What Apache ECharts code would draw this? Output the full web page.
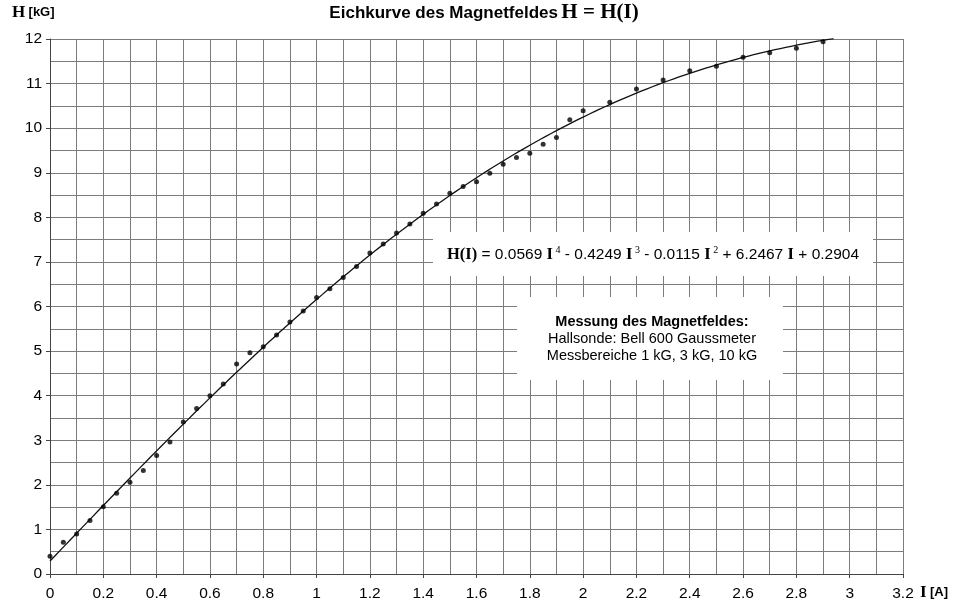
<!DOCTYPE html>
<html>
<head>
<meta charset="utf-8">
<script src="https://cdn.jsdelivr.net/npm/echarts@6/dist/echarts.min.js"></script>
<style>
    html, body { margin: 0; padding: 0; background: #fff; }
    #chart { width: 958px; height: 612px; }
</style>
</head>
<body>
<div id="chart"></div>
<script>
// measured current I [A]
const currents = [
    0, 0.05, 0.1, 0.15, 0.2, 0.25, 0.3, 0.35, 0.4, 0.45,
    0.5, 0.55, 0.6, 0.65, 0.7, 0.75, 0.8, 0.85, 0.9, 0.95,
    1.0, 1.05, 1.1, 1.15, 1.2, 1.25, 1.3, 1.35, 1.4, 1.45,
    1.5, 1.55, 1.6, 1.65, 1.7, 1.75, 1.8, 1.85, 1.9, 1.95,
    2.0, 2.1, 2.2, 2.3, 2.4, 2.5, 2.6, 2.7, 2.8, 2.9
];

// measured field H [kG]
const fieldValues = [
    0.4, 0.71, 0.9, 1.2, 1.51, 1.81, 2.06, 2.32, 2.66, 2.96,
    3.41, 3.71, 4.0, 4.26, 4.71, 4.96, 5.1, 5.36, 5.65, 5.9,
    6.2, 6.4, 6.65, 6.9, 7.2, 7.4, 7.65, 7.85, 8.09, 8.3,
    8.54, 8.69, 8.8, 8.99, 9.19, 9.34, 9.44, 9.64, 9.79, 10.19,
    10.39, 10.58, 10.88, 11.08, 11.29, 11.39, 11.59, 11.69, 11.79, 11.94
];

// fit coefficients as printed on the chart (I^4 .. I^0)
const fitCoeffs = [0.0569, -0.4249, -0.0115, 6.2467, 0.2904];
const fitRange = [0, 2.94];

const sans = '"Liberation Sans", Arial, sans-serif';
const serif = '"Liberation Serif", "Times New Roman", serif';

function evalFit(i) {
    return fitCoeffs.reduce((acc, c) => acc * i + c, 0);
}

const fitLine = [];
for (let k = 0; k <= 147; k++) {
    const i = Math.min(fitRange[1], k * 0.02);
    fitLine.push([i, evalFit(i)]);
}

const points = currents.map((c, idx) => [c, fieldValues[idx]]);

const chart = echarts.init(document.getElementById('chart'));

const gridLine = { show: true, lineStyle: { color: '#7c7c7c', width: 1 } };

chart.setOption({
    animation: false,
    backgroundColor: '#fff',
    grid: { left: 50, right: 55, top: 39, bottom: 38 },
    xAxis: {
        type: 'value',
        min: 0,
        max: 3.2,
        interval: 0.2,
        axisLine: { show: true, lineStyle: { color: '#444', width: 1 } },
        axisTick: { show: true, length: 4, lineStyle: { color: '#444' } },
        axisLabel: { color: '#000', fontFamily: sans, fontSize: 15.5, margin: 12 },
        splitLine: gridLine,
        minorTick: { show: false, splitNumber: 2 },
        minorSplitLine: gridLine
    },
    yAxis: {
        type: 'value',
        min: 0,
        max: 12,
        interval: 1,
        axisLine: { show: true, lineStyle: { color: '#444', width: 1 } },
        axisTick: { show: true, length: 4, lineStyle: { color: '#444' } },
        axisLabel: { color: '#000', fontFamily: sans, fontSize: 15.5, margin: 8 },
        splitLine: gridLine,
        minorTick: { show: false, splitNumber: 2 },
        minorSplitLine: gridLine
    },
    series: [
        {
            name: 'Fit',
            type: 'line',
            data: fitLine,
            showSymbol: false,
            smooth: false,
            lineStyle: { color: '#111', width: 1.3 },
            z: 3
        },
        {
            name: 'Messung',
            type: 'scatter',
            data: points,
            symbol: 'circle',
            symbolSize: 5,
            itemStyle: { color: '#000' },
            z: 4
        }
    ],
    graphic: [
        {
            type: 'text',
            left: 12,
            top: 4,
            style: {
                text: '{h|H} {u|[kG]}',
                rich: {
                    h: { fontFamily: serif, fontWeight: 'bold', fontSize: 17, fill: '#000' },
                    u: { fontFamily: sans, fontWeight: 'bold', fontSize: 13, fill: '#000' }
                }
            }
        },
        {
            type: 'text',
            left: 920,
            top: 584,
            style: {
                text: '{h|I} {u|[A]}',
                rich: {
                    h: { fontFamily: serif, fontWeight: 'bold', fontSize: 17, fill: '#000' },
                    u: { fontFamily: sans, fontWeight: 'bold', fontSize: 13, fill: '#000' }
                }
            }
        },
        {
            type: 'text',
            x: 484,
            y: 13,
            style: {
                text: '{t|Eichkurve des Magnetfeldes} {s|H = H(I)}',
                align: 'center',
                verticalAlign: 'middle',
                rich: {
                    t: { fontFamily: sans, fontWeight: 'bold', fontSize: 17, fill: '#000' },
                    s: { fontFamily: serif, fontWeight: 'bold', fontSize: 21, fill: '#000' }
                }
            }
        },
        {
            type: 'rect',
            shape: { x: 433, y: 232, width: 440, height: 44 },
            style: { fill: '#fff' },
            z: 10
        },
        {
            type: 'text',
            x: 653,
            y: 255,
            z: 11,
            style: {
                text: '{b|H(I)}{n| = 0.0569 }{b|I}{p| 4}{n| - 0.4249 }{b|I}{p| 3}{n| - 0.0115 }{b|I}{p| 2}{n| + 6.2467 }{b|I}{n| + 0.2904}',
                align: 'center',
                verticalAlign: 'middle',
                rich: {
                    b: { fontFamily: serif, fontWeight: 'bold', fontSize: 16.5, fill: '#000' },
                    n: { fontFamily: sans, fontSize: 15.5, fill: '#000' },
                    p: { fontFamily: serif, fontSize: 10, fill: '#000', padding: [0, 0, 9, 0] }
                }
            }
        },
        {
            type: 'rect',
            shape: { x: 517, y: 297, width: 266, height: 83 },
            style: { fill: '#fff' },
            z: 10
        },
        {
            type: 'text',
            x: 652,
            y: 339,
            z: 11,
            style: {
                text: '{b|Messung des Magnetfeldes:}\n{n|Hallsonde: Bell 600 Gaussmeter}\n{n|Messbereiche 1 kG, 3 kG, 10 kG}',
                align: 'center',
                verticalAlign: 'middle',
                rich: {
                    b: { fontFamily: sans, fontWeight: 'bold', fontSize: 14.5, lineHeight: 17, fill: '#000', align: 'center' },
                    n: { fontFamily: sans, fontSize: 14.5, lineHeight: 17, fill: '#000', align: 'center' }
                }
            }
        }
    ]
});
</script>
</body>
</html>
